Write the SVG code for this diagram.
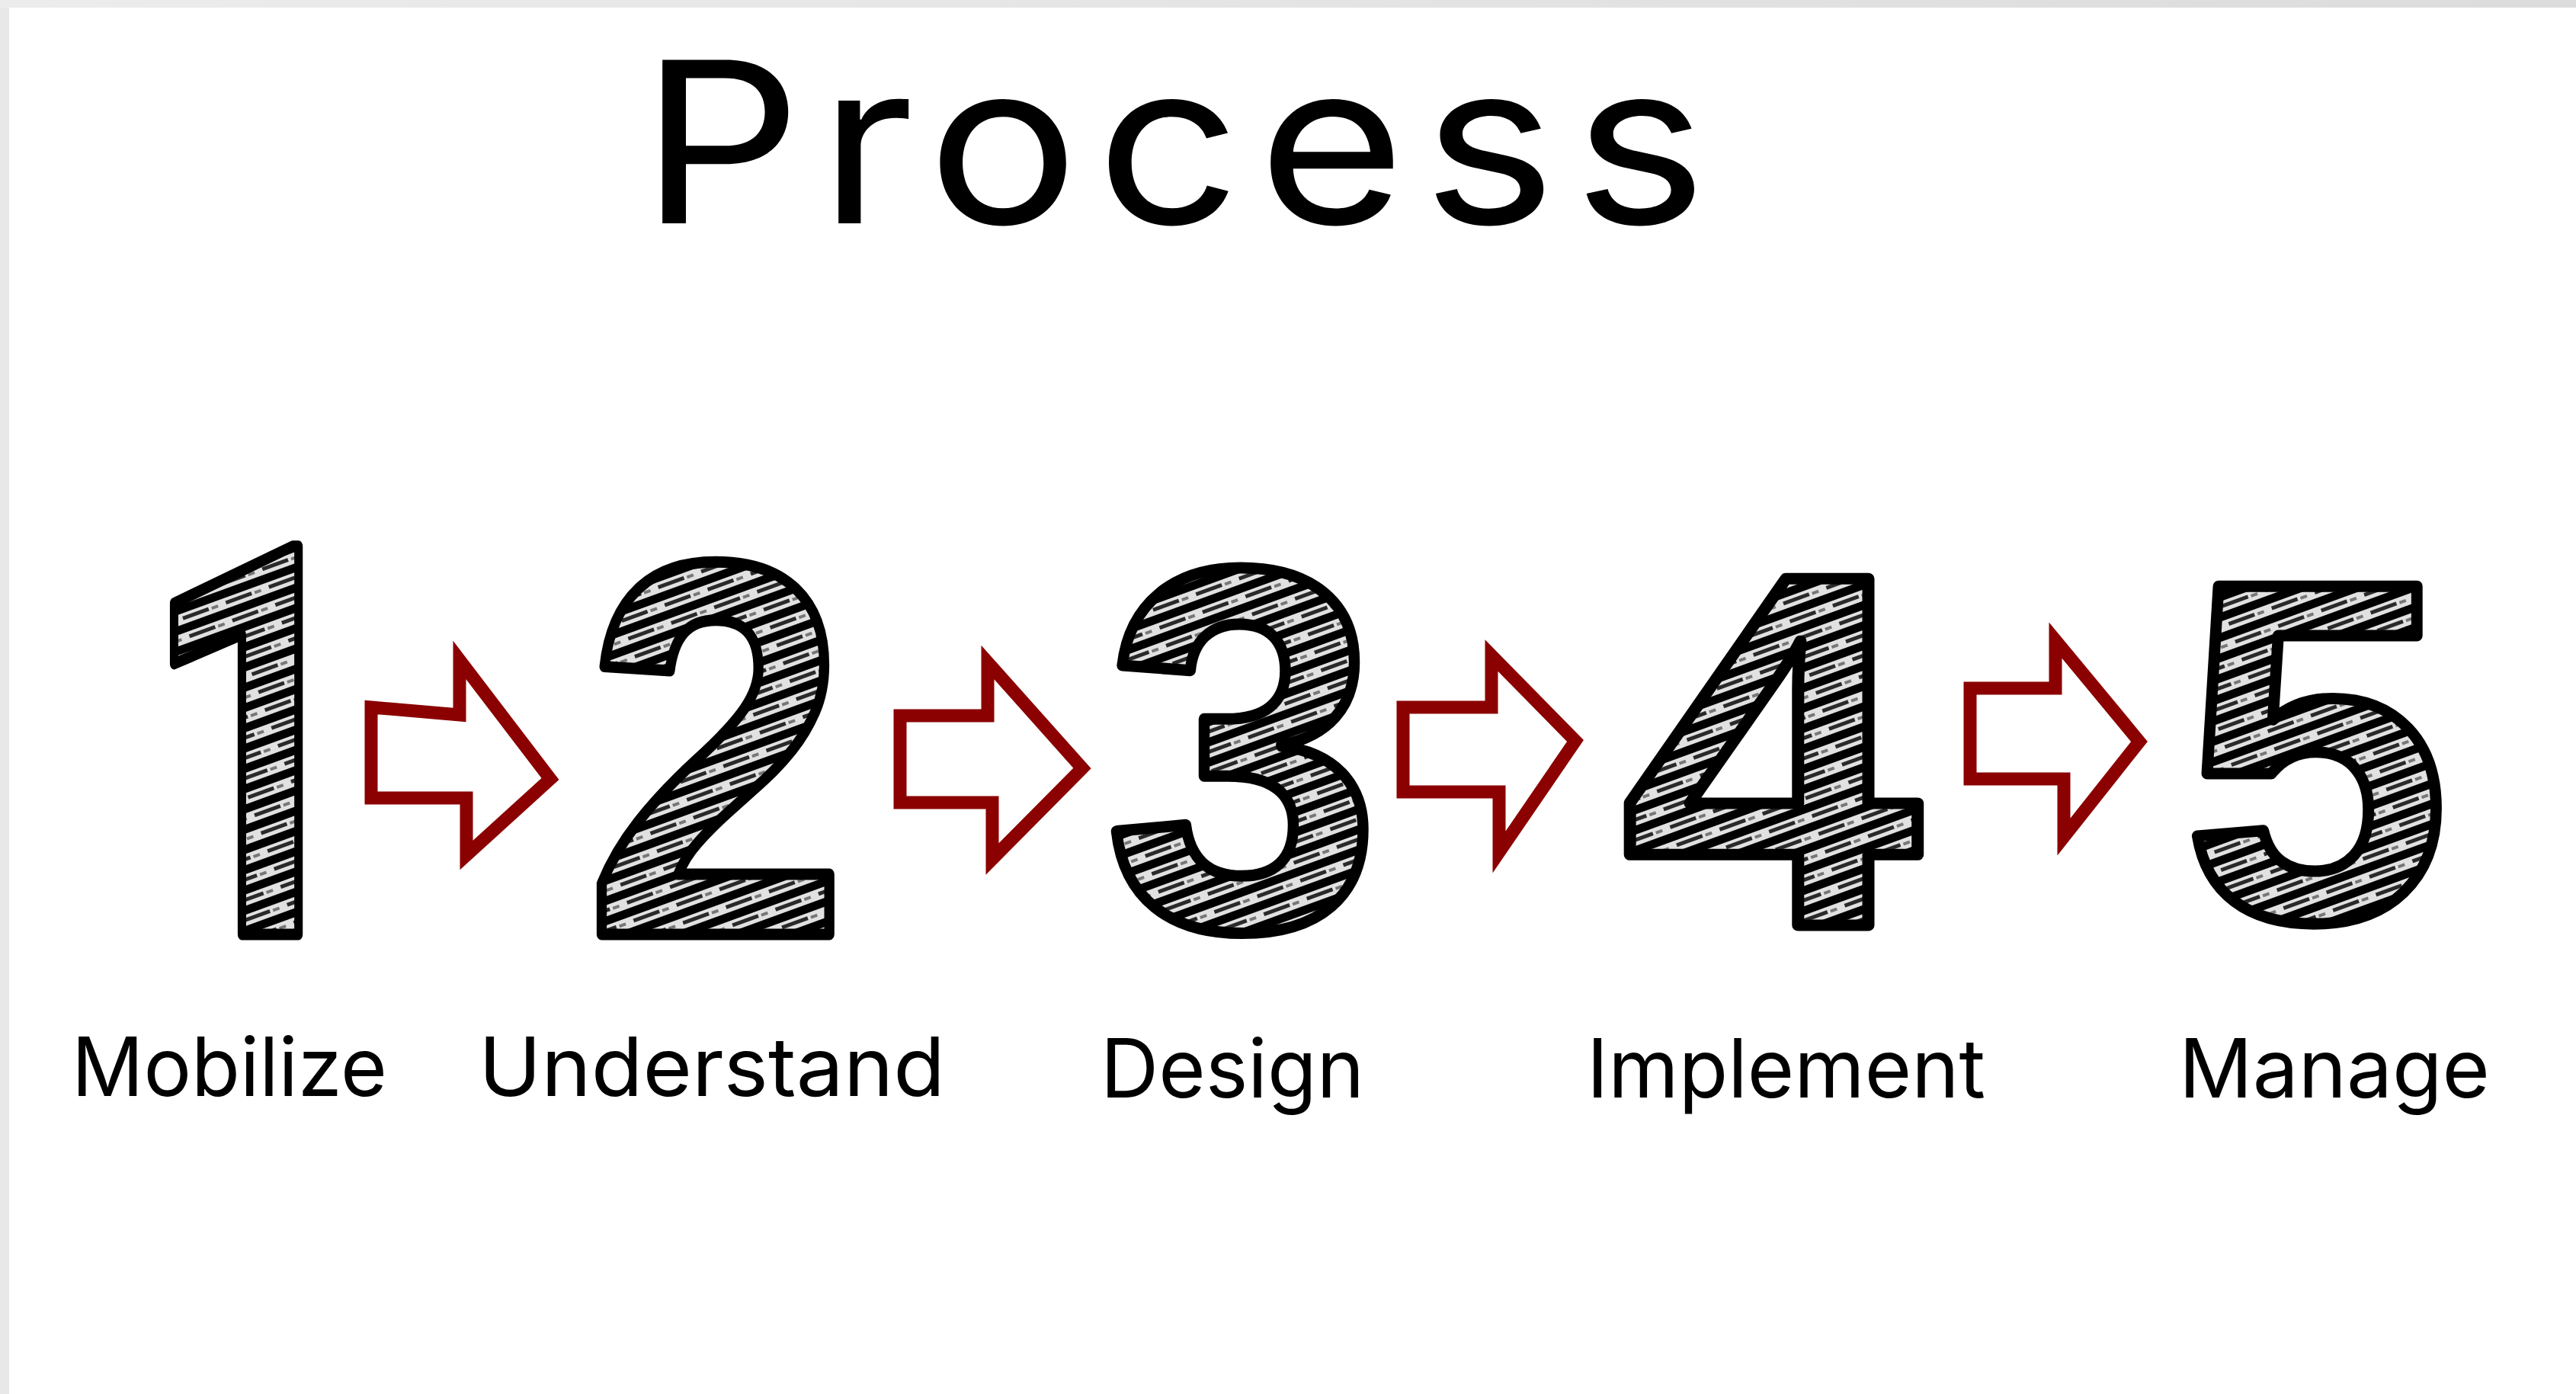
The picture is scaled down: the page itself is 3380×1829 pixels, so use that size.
<svg xmlns="http://www.w3.org/2000/svg" width="3380" height="1829" viewBox="0 0 3380 1829">
  <defs>
    <linearGradient id="topband" x1="0" y1="0" x2="1" y2="0">
      <stop offset="0" stop-color="#ececec"/>
      <stop offset="1" stop-color="#dcdcdc"/>
    </linearGradient>
    <pattern id="hatch" patternUnits="userSpaceOnUse" width="60" height="25" patternTransform="rotate(-20)">
      <rect width="60" height="25" fill="#e1e1e1"/>
      <rect x="0" y="2" width="60" height="11" fill="#000"/>
      <rect x="8" y="17" width="36" height="5" fill="#2a2a2a"/>
      <rect x="48" y="18" width="9" height="4" fill="#777"/>
    </pattern>
  </defs>
  <style>
    .digit { font-family: "Liberation Sans", Arial, sans-serif; font-weight: bold; fill: url(#hatch); stroke: #000; stroke-width: 15; stroke-linejoin: round; paint-order: fill stroke; }
    .one { font-family: Roboto, "Open Sans", sans-serif; font-weight: 700; }
    .label { font-family: Inter, "Liberation Sans", sans-serif; font-size: 107px; fill: #000; }
    .title { font-family: Inter, "Liberation Sans", sans-serif; font-size: 295px; fill: #000; letter-spacing: 20px; }
    .arrow { fill: #fff; stroke: #8b0000; stroke-width: 17; stroke-linejoin: miter; }
  </style>

  <rect x="0" y="0" width="3380" height="1829" fill="#e8e8e8"/>
  <rect x="0" y="0" width="3380" height="10" fill="url(#topband)"/>
  <rect x="12" y="10" width="3368" height="1819" fill="#ffffff"/>

  <g id="title">
    <text class="title" x="840" y="293" textLength="1422" lengthAdjust="spacingAndGlyphs">Process</text>
  </g>

  <g id="step-1">
    <text class="digit one" x="185" y="1226" font-size="715" textLength="303" lengthAdjust="spacingAndGlyphs">1</text>
    <text class="label" x="94" y="1438" textLength="414" lengthAdjust="spacingAndGlyphs">Mobilize</text>
  </g>
  <g id="step-2">
    <text class="digit" x="768" y="1226" font-size="700" textLength="345" lengthAdjust="spacingAndGlyphs">2</text>
    <text class="label" x="628" y="1438" textLength="612" lengthAdjust="spacingAndGlyphs">Understand</text>
  </g>
  <g id="step-3">
    <text class="digit" x="1450" y="1217" font-size="676" textLength="362" lengthAdjust="spacingAndGlyphs">3</text>
    <text class="label" x="1444" y="1440" textLength="346" lengthAdjust="spacingAndGlyphs">Design</text>
  </g>
  <g id="step-4">
    <text class="digit" x="2128" y="1214" font-size="661" textLength="392" lengthAdjust="spacingAndGlyphs">4</text>
    <text class="label" x="2082" y="1440" textLength="523" lengthAdjust="spacingAndGlyphs">Implement</text>
  </g>
  <g id="step-5">
    <text class="digit" x="2864" y="1206" font-size="635" textLength="350" lengthAdjust="spacingAndGlyphs">5</text>
    <text class="label" x="2859" y="1440" textLength="408" lengthAdjust="spacingAndGlyphs">Manage</text>
  </g>

  <g id="connectors">
    <path class="arrow" d="M487,928 L603,938 L603,866 L722,1022 L612,1122 L612,1047 L487,1047 Z"/>
    <path class="arrow" d="M1181,939 L1296,939 L1296,869 L1420,1008 L1302,1127 L1302,1053 L1181,1053 Z"/>
    <path class="arrow" d="M1841,928 L1957,928 L1957,860 L2067,972 L1967,1118 L1967,1039 L1841,1039 Z"/>
    <path class="arrow" d="M2585,903 L2697,903 L2697,840 L2807,973 L2708,1098 L2708,1022 L2585,1022 Z"/>
  </g>
</svg>
